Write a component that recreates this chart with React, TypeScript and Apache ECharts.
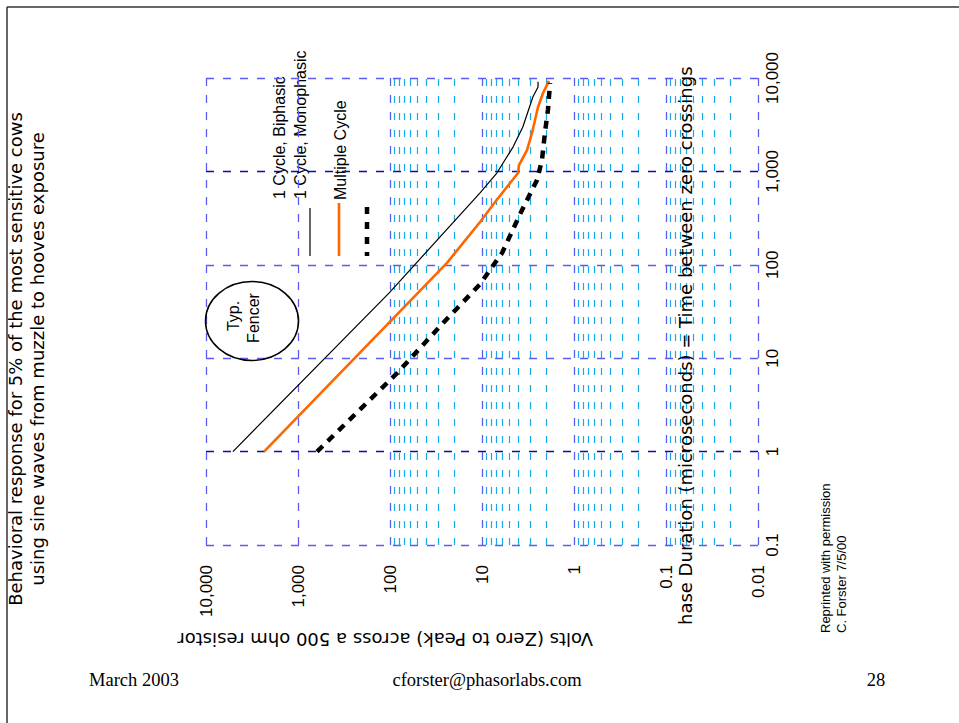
import { useEffect, useRef } from 'react';
import * as echarts from 'echarts';

// Tick labels
const voltTickLabels = ['0.01', '0.1', '1', '10', '100', '1,000', '10,000'];
const durationTickLabels = ['0.1', '1', '10', '100', '1,000', '10,000'];

// Minor (light blue) grid values on the volts axis
const minorVolts = [
  0.02, 0.03, 0.04, 0.05, 0.06, 0.07, 0.08, 0.09,
  0.2, 0.3, 0.4, 0.5, 0.6, 0.7, 0.8, 0.9,
  2, 3, 4, 5, 6, 7, 8, 9,
  20, 30, 40, 50, 60, 70, 80, 90,
];

// Series names
const seriesNames = ['1 Cycle, Biphasic', '1 Cycle, Monophasic', 'Multiple Cycle'];

// 1 Cycle, Biphasic
const biphasicVolts = [5100, 102, 10.5, 6.9, 4.6, 3.6, 2.8, 2.46, 2.46];
const biphasicDuration = [1, 50, 590, 960, 1820, 2990, 6270, 8000, 9100];

// 1 Cycle, Monophasic
const monophasicVolts = [2340, 24, 10.5, 7.2, 4.06, 3.96, 3.24, 2.86, 2.46, 2.17, 1.87];
const monophasicDuration = [1, 105, 287, 470, 960, 1170, 1690, 2580, 4900, 6900, 9300];

// Multiple Cycle
const multipleVolts = [621, 84, 26.5, 10.5, 6.06, 3.67, 2.52, 2.23, 2.07, 1.92, 1.82];
const multipleDuration = [1, 6.9, 23.8, 62, 134, 386, 809, 1320, 2580, 4540, 8830];

const SANS = 'Liberation Sans, Arial, sans-serif';
const WIDE = 'DejaVu Sans, sans-serif';
const SERIF = 'Liberation Serif, Times New Roman, serif';

export default function App() {
  const ref = useRef<HTMLDivElement>(null);

  useEffect(() => {
    const chart = echarts.init(ref.current!, null, { renderer: 'svg' });
    const pairs = (v: number[], t: number[]) => v.map((x, i) => [x, t[i]]);
    const labelFor = (labels: string[], minExp: number) => (val: number) => {
      const idx = Math.round(Math.log10(val)) - minExp;
      return labels[idx] ?? '';
    };
    const HALF = Math.PI / 2;

    chart.setOption({
      animation: false,
      backgroundColor: '#ffffff',
      grid: { left: 206, right: 201, top: 78, bottom: 178, outerBoundsMode: 'none' },
      xAxis: {
        type: 'log',
        logBase: 10,
        min: 0.01,
        max: 10000,
        inverse: true,
        splitNumber: 6,
        axisLine: { show: false },
        axisTick: { show: false },
        axisLabel: {
          rotate: 90,
          margin: 20,
          fontSize: 17,
          fontFamily: SANS,
          color: '#000',
          showMinLabel: true,
          showMaxLabel: true,
          padding: [0, 0, 14, 0],
          formatter: labelFor(voltTickLabels, -2),
        },
        splitLine: {
          show: true,
          lineStyle: { color: '#5c5cf0', width: 1.3, type: [8, 9] },
        },
      },
      yAxis: {
        type: 'log',
        logBase: 10,
        min: 0.1,
        max: 10000,
        position: 'right',
        splitNumber: 5,
        axisLine: { show: false },
        axisTick: { show: false },
        axisLabel: {
          rotate: 90,
          margin: 6,
          fontSize: 17,
          fontFamily: SANS,
          color: '#000',
          showMinLabel: true,
          showMaxLabel: true,
          formatter: labelFor(durationTickLabels, -1),
        },
        splitLine: {
          show: true,
          lineStyle: {
            color: ['#5c5cf0', '#0a0ab8', '#5c5cf0', '#5c5cf0', '#0a0ab8', '#5c5cf0'],
            width: 1.3,
            type: [8, 9],
          },
        },
      },
      series: [
        {
          type: 'line',
          name: 'minor',
          data: [],
          z: 1,
          silent: true,
          markLine: {
            silent: true,
            symbol: ['none', 'none'],
            label: { show: false },
            lineStyle: { color: '#1aa8e8', width: 1.2, type: [7, 10] },
            emphasis: { disabled: true },
            data: minorVolts.map((v) => ({ xAxis: v })),
          },
        },
        {
          type: 'line',
          name: seriesNames[0],
          data: pairs(biphasicVolts, biphasicDuration),
          showSymbol: false,
          z: 5,
          lineStyle: { color: '#000', width: 1.2 },
        },
        {
          type: 'line',
          name: seriesNames[1],
          data: pairs(monophasicVolts, monophasicDuration),
          showSymbol: false,
          z: 5,
          lineStyle: { color: '#ff6600', width: 2.6 },
        },
        {
          type: 'line',
          name: seriesNames[2],
          data: pairs(multipleVolts, multipleDuration),
          showSymbol: false,
          z: 5,
          lineStyle: { color: '#000', width: 4.5, type: [8, 7] },
        },
      ],
      graphic: [
        // slide border
        { type: 'line', shape: { x1: 7, y1: 7, x2: 959, y2: 7 }, style: { stroke: '#333', lineWidth: 1.5 } },
        { type: 'line', shape: { x1: 7, y1: 7, x2: 7, y2: 723 }, style: { stroke: '#333', lineWidth: 1.5 } },
        // title
        {
          type: 'text', x: 15, y: 359, rotation: HALF,
          style: { text: 'Behavioral response for 5% of the most sensitive cows', fontSize: 18, fontFamily: WIDE, fill: '#000', align: 'center', verticalAlign: 'middle' },
        },
        {
          type: 'text', x: 37, y: 359, rotation: HALF,
          style: { text: 'using sine waves from muzzle to hooves exposure', fontSize: 18, fontFamily: WIDE, fill: '#000', align: 'center', verticalAlign: 'middle' },
        },
        // legend
        {
          type: 'text', x: 279, y: 199, rotation: HALF,
          style: { text: seriesNames[0], fontSize: 16, fontFamily: SANS, fill: '#000', align: 'left', verticalAlign: 'middle' },
        },
        {
          type: 'text', x: 300, y: 199, rotation: HALF,
          style: { text: seriesNames[1], fontSize: 16, fontFamily: SANS, fill: '#000', align: 'left', verticalAlign: 'middle' },
        },
        {
          type: 'text', x: 340, y: 200, rotation: HALF,
          style: { text: seriesNames[2], fontSize: 16, fontFamily: SANS, fill: '#000', align: 'left', verticalAlign: 'middle' },
        },
        { type: 'line', z: 10, shape: { x1: 310, y1: 208, x2: 310, y2: 256 }, style: { stroke: '#000', lineWidth: 1.2 } },
        { type: 'line', z: 10, shape: { x1: 339, y1: 203, x2: 339, y2: 256 }, style: { stroke: '#ff6600', lineWidth: 2.6 } },
        { type: 'line', z: 10, shape: { x1: 367, y1: 207, x2: 367, y2: 256 }, style: { stroke: '#000', lineWidth: 4.5, lineDash: [7, 8] } },
        // Typ. Fencer
        { type: 'ellipse', z: 10, shape: { cx: 252, cy: 321, rx: 46.5, ry: 39.5 }, style: { fill: 'none', stroke: '#000', lineWidth: 1.5 } },
        {
          type: 'text', x: 233, y: 316, rotation: HALF, z: 10,
          style: { text: 'Typ.', fontSize: 16, fontFamily: SANS, fill: '#000', align: 'center', verticalAlign: 'middle' },
        },
        {
          type: 'text', x: 253, y: 318, rotation: HALF, z: 10,
          style: { text: 'Fencer', fontSize: 16, fontFamily: SANS, fill: '#000', align: 'center', verticalAlign: 'middle' },
        },
        // axis names
        {
          type: 'text', x: 685, y: 625, rotation: HALF, z: 10,
          style: { text: 'hase Duration (microseconds) = Time between zero crossings', fontSize: 18, fontFamily: WIDE, fill: '#000', align: 'left', verticalAlign: 'middle' },
        },
        {
          type: 'text', x: 593, y: 639, rotation: Math.PI, z: 10,
          style: { text: 'Volts (Zero to Peak) across a 500 ohm resistor', fontSize: 18, fontFamily: WIDE, fill: '#000', align: 'left', verticalAlign: 'middle' },
        },
        // reprint note
        {
          type: 'text', x: 825, y: 633, rotation: HALF,
          style: { text: 'Reprinted with permission', fontSize: 13, fontFamily: SANS, fill: '#000', align: 'left', verticalAlign: 'middle' },
        },
        {
          type: 'text', x: 841, y: 633, rotation: HALF,
          style: { text: 'C. Forster 7/5/00', fontSize: 13, fontFamily: SANS, fill: '#000', align: 'left', verticalAlign: 'middle' },
        },
        // footer
        {
          type: 'text', x: 134, y: 680,
          style: { text: 'March 2003', fontSize: 18.5, fontFamily: SERIF, fill: '#000', align: 'center', verticalAlign: 'middle' },
        },
        {
          type: 'text', x: 487, y: 680,
          style: { text: 'cforster@phasorlabs.com', fontSize: 18.5, fontFamily: SERIF, fill: '#000', align: 'center', verticalAlign: 'middle' },
        },
        {
          type: 'text', x: 876, y: 680,
          style: { text: '28', fontSize: 18.5, fontFamily: SERIF, fill: '#000', align: 'center', verticalAlign: 'middle' },
        },
      ],
    });

    return () => chart.dispose();
  }, []);

  return (
    <div
      ref={ref}
      style={{ position: 'absolute', left: 0, top: 0, width: 959, height: 723, background: '#fff' }}
    />
  );
}
